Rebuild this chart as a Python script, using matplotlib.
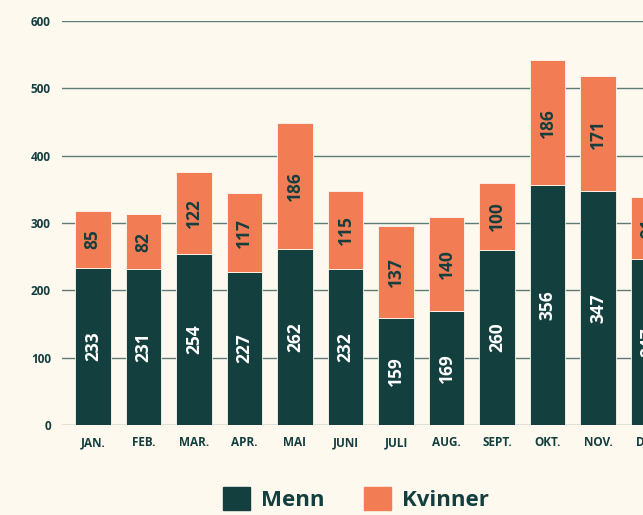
import numpy as np
import matplotlib.pyplot as plt
from matplotlib.patches import Patch

maaneder = ["JAN.", "FEB.", "MAR.", "APR.", "MAI", "JUNI", "JULI", "AUG.",
            "SEPT.", "OKT.", "NOV.", "DES."]
menn = [233, 231, 254, 227, 262, 232, 159, 169, 260, 356, 347, 247]
kvinner = [85, 82, 122, 117, 186, 115, 137, 140, 100, 186, 171, 91]

bg = "#fef9ef"
mork = "#143f3f"
oransje = "#f27c53"
grid = "#5d7c78"

plt.rcParams['font.family'] = ['Open Sans', 'DejaVu Sans']

fig = plt.figure(figsize=(6.43, 5.15), dpi=100, facecolor=bg)
# axes runs past the right edge, like the reference (DES. is cut off)
ax = fig.add_axes([62/643, 90/515, 617/643, 404/515], facecolor=bg)

x = np.arange(len(maaneder))
b = 0.70
ax.bar(x, menn, b, color=mork, edgecolor=bg, linewidth=0.6, zorder=3)
ax.bar(x, kvinner, b, bottom=menn, color=oransje, edgecolor=bg, linewidth=0.6, zorder=3)

for i in range(len(x)):
    ax.text(x[i], menn[i] / 2, str(menn[i]), rotation=90, ha="center", va="center",
            color="white", fontsize=12.5, fontweight="bold", zorder=4)
    ax.text(x[i], menn[i] + kvinner[i] / 2, str(kvinner[i]), rotation=90, ha="center",
            va="center", color=mork, fontsize=12.5, fontweight="bold", zorder=4)

ax.set_xlim(-0.61, 11.6)
ax.set_ylim(0, 600)
ax.set_yticks([0, 100, 200, 300, 400, 500, 600])
ax.set_xticks(x)
ax.set_xticklabels(maaneder)
ax.grid(axis="y", color=grid, linewidth=1, zorder=0)
for s in ax.spines.values():
    s.set_visible(False)
ax.tick_params(length=0, labelsize=8.5, labelcolor=mork, pad=8)
ax.tick_params(axis="x", pad=8)
for t in ax.get_xticklabels() + ax.get_yticklabels():
    t.set_fontweight("bold")

handles = [Patch(color=mork, label="Menn"), Patch(color=oransje, label="Kvinner")]
fig.legend(handles=handles, loc="upper left", bbox_to_anchor=(223/643, 1 - 487/515),
           ncol=2, frameon=False, prop={"size": 16, "weight": "bold"},
           labelcolor=mork, handlelength=1.22, handleheight=1.22, handletextpad=0.5,
           columnspacing=1.75, borderpad=0, borderaxespad=0)

fig.savefig("out.png", dpi=100, facecolor=bg)
